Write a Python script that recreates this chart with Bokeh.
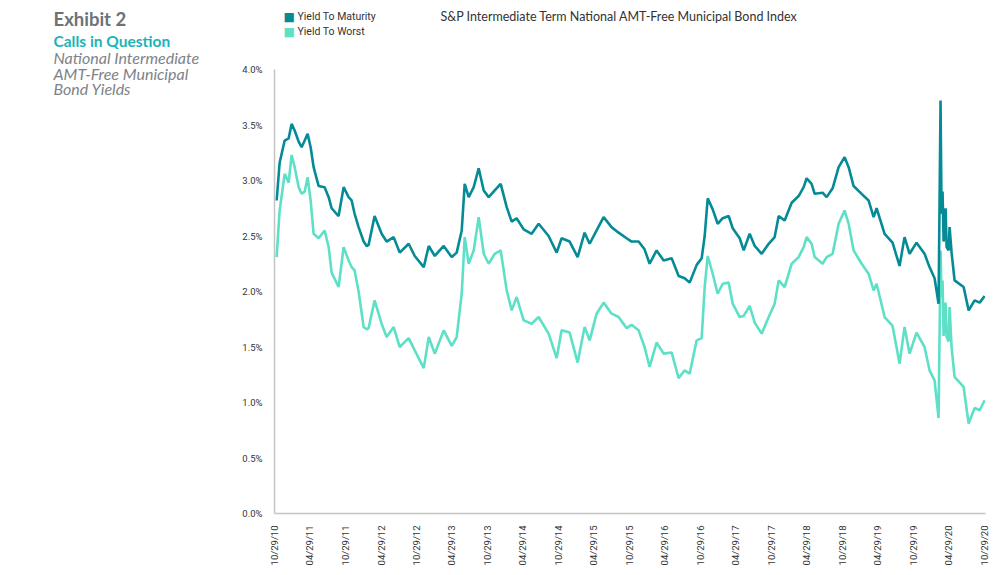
import math
import pandas as pd
from bokeh.plotting import figure
from bokeh.layouts import row, column
from bokeh.models import (Label, FixedTicker, DatetimeTickFormatter, PrintfTickFormatter,
                          Range1d, ColumnDataSource)
from bokeh.embed import file_html
from bokeh.resources import INLINE

# time in decimal years
t = [2010.855, 2010.897, 2010.968, 2011.024, 2011.066, 2011.109, 2011.165, 2011.207, 2011.250, 2011.292,
     2011.334, 2011.376, 2011.447, 2011.531, 2011.588, 2011.630, 2011.728, 2011.799, 2011.869, 2011.912,
     2011.954, 2012.010, 2012.081, 2012.123, 2012.151, 2012.235, 2012.334, 2012.404, 2012.503, 2012.588,
     2012.714, 2012.799, 2012.926, 2012.996, 2013.081, 2013.207, 2013.320, 2013.390, 2013.461, 2013.503,
     2013.559, 2013.630, 2013.700, 2013.771, 2013.841, 2013.926, 2014.010, 2014.095, 2014.165, 2014.235,
     2014.334, 2014.447, 2014.545, 2014.686, 2014.799, 2014.869, 2014.982, 2015.095, 2015.193, 2015.264,
     2015.362, 2015.461, 2015.573, 2015.672, 2015.785, 2015.855, 2015.954, 2016.038, 2016.109, 2016.207,
     2016.306, 2016.419, 2016.517, 2016.602, 2016.672, 2016.771, 2016.841, 2016.883, 2016.926, 2016.996,
     2017.066, 2017.137, 2017.221, 2017.278, 2017.376, 2017.433, 2017.517, 2017.588, 2017.686, 2017.785,
     2017.869, 2017.926, 2018.010, 2018.109, 2018.207, 2018.278, 2018.320, 2018.390, 2018.433, 2018.545,
     2018.602, 2018.686, 2018.771, 2018.855, 2018.912, 2018.982, 2019.095, 2019.193, 2019.264, 2019.306,
     2019.419, 2019.531, 2019.630, 2019.700, 2019.771, 2019.869, 2019.982, 2020.052, 2020.123, 2020.179,
     2020.207, 2020.221, 2020.235, 2020.250, 2020.278, 2020.292, 2020.320, 2020.334, 2020.362, 2020.404,
     2020.531, 2020.602, 2020.686, 2020.757, 2020.827]

ytm = [2.82, 3.16, 3.36, 3.38, 3.51, 3.45, 3.35, 3.30, 3.36, 3.42,
       3.30, 3.12, 2.95, 2.94, 2.85, 2.75, 2.68, 2.94, 2.85, 2.82,
       2.70, 2.58, 2.45, 2.41, 2.42, 2.68, 2.52, 2.45, 2.49, 2.35,
       2.43, 2.32, 2.22, 2.41, 2.32, 2.41, 2.31, 2.35, 2.55, 2.97,
       2.85, 2.94, 3.11, 2.91, 2.85, 2.91, 2.97, 2.76, 2.63, 2.66,
       2.56, 2.52, 2.61, 2.50, 2.35, 2.48, 2.45, 2.31, 2.53, 2.43,
       2.55, 2.67, 2.58, 2.53, 2.48, 2.45, 2.45, 2.38, 2.25, 2.37,
       2.28, 2.30, 2.14, 2.12, 2.08, 2.24, 2.30, 2.50, 2.84, 2.74,
       2.61, 2.66, 2.68, 2.57, 2.48, 2.37, 2.52, 2.41, 2.34, 2.43,
       2.49, 2.68, 2.64, 2.80, 2.86, 2.94, 3.02, 2.97, 2.88, 2.89,
       2.85, 2.93, 3.12, 3.21, 3.12, 2.95, 2.88, 2.82, 2.67, 2.75,
       2.52, 2.44, 2.23, 2.49, 2.34, 2.44, 2.34, 2.22, 2.12, 1.89,
       3.72, 2.70, 2.90, 2.45, 2.75, 2.40, 2.37, 2.58, 2.35, 2.10,
       2.04, 1.83, 1.92, 1.90, 1.96]

ytw = [2.31, 2.73, 3.06, 2.98, 3.23, 3.12, 2.94, 2.88, 2.90, 3.03,
       2.82, 2.52, 2.48, 2.55, 2.40, 2.17, 2.04, 2.40, 2.28, 2.22,
       2.19, 2.00, 1.68, 1.66, 1.67, 1.92, 1.71, 1.59, 1.68, 1.50,
       1.58, 1.47, 1.31, 1.59, 1.44, 1.65, 1.51, 1.59, 1.98, 2.49,
       2.25, 2.37, 2.67, 2.34, 2.25, 2.34, 2.37, 2.01, 1.83, 1.95,
       1.74, 1.71, 1.77, 1.62, 1.40, 1.65, 1.63, 1.36, 1.68, 1.56,
       1.80, 1.90, 1.80, 1.77, 1.67, 1.70, 1.65, 1.50, 1.32, 1.54,
       1.44, 1.45, 1.22, 1.29, 1.26, 1.56, 1.58, 2.04, 2.32, 2.16,
       1.98, 2.07, 2.08, 1.89, 1.77, 1.78, 1.87, 1.72, 1.62, 1.77,
       1.89, 2.10, 2.04, 2.25, 2.31, 2.40, 2.49, 2.43, 2.31, 2.25,
       2.31, 2.34, 2.61, 2.73, 2.61, 2.37, 2.25, 2.16, 2.01, 2.07,
       1.77, 1.69, 1.35, 1.68, 1.44, 1.63, 1.50, 1.29, 1.20, 0.86,
       2.37, 1.95, 2.10, 1.60, 1.90, 1.59, 1.55, 1.86, 1.50, 1.23,
       1.14, 0.81, 0.95, 0.93, 1.02]

tick_dates = ["2010-10-29", "2011-04-29", "2011-10-29", "2012-04-29", "2012-10-29", "2013-04-29",
              "2013-10-29", "2014-04-29", "2014-10-29", "2015-04-29", "2015-10-29", "2016-04-29",
              "2016-10-29", "2017-04-29", "2017-10-29", "2018-04-29", "2018-10-29", "2019-04-29",
              "2019-10-29", "2020-04-29", "2020-10-29"]
y_ticks = [0.0, 0.5, 1.0, 1.5, 2.0, 2.5, 3.0, 3.5, 4.0]

DARK = "#058b95"
LIGHT = "#5ee0c7"
AXFONT = "Roboto"

LEFT_W = 230           # width of the left text column
MAIN_W = 1000 - LEFT_W
TOP_H = 60             # height of the legend / header strip
MAIN_H = 575 - TOP_H
BORDER_L = 274 - LEFT_W
BORDER_R = 15


def to_dt(v):
    year = int(v)
    start = pd.Timestamp(year=year, month=1, day=1)
    end = pd.Timestamp(year=year + 1, month=1, day=1)
    return start + (end - start) * (v - year)


dates = [to_dt(v) for v in t]
src = ColumnDataSource(dict(date=dates, ytm=ytm, ytw=ytw))

# ---------------- main chart ----------------
X0, X1 = pd.Timestamp("2010-10-29"), pd.Timestamp("2020-11-03")
p = figure(width=MAIN_W, height=MAIN_H, x_axis_type="datetime", output_backend="svg",
           toolbar_location=None, min_border_left=BORDER_L, min_border_right=BORDER_R,
           min_border_top=69 - TOP_H, min_border_bottom=62)
p.x_range = Range1d(X0, X1)
p.y_range = Range1d(0, 4.0)
p.outline_line_color = None
p.grid.visible = False

p.line("date", "ytw", source=src, line_color=LIGHT, line_width=2.6)
p.line("date", "ytm", source=src, line_color=DARK, line_width=2.6)

tick_ms = [pd.Timestamp(d).value / 1e6 for d in tick_dates]
p.xaxis.ticker = FixedTicker(ticks=tick_ms)
fmt = "%m/%d/%y"
p.xaxis.formatter = DatetimeTickFormatter(milliseconds=fmt, seconds=fmt, minsec=fmt, minutes=fmt,
                                          hourmin=fmt, hours=fmt, days=fmt, months=fmt, years=fmt)
p.xaxis.major_label_orientation = math.pi / 2
p.xaxis.major_label_standoff = 6

p.yaxis.ticker = FixedTicker(ticks=y_ticks)
p.yaxis.formatter = PrintfTickFormatter(format="%.1f%%")
p.yaxis.major_label_standoff = 6

for ax in (p.xaxis, p.yaxis):
    ax.axis_line_color = "#c4c4c4"
    ax.axis_line_width = 1.5
    ax.major_tick_line_color = None
    ax.minor_tick_line_color = None
    ax.major_label_text_font = AXFONT
    ax.major_label_text_font_size = "9.5px"
    ax.major_label_text_color = "#333333"


# ---------------- text panels (ranges in page pixels) ----------------
def text_panel(w, h, x_start, x_end, bl=0, br=0):
    f = figure(width=w, height=h, output_backend="svg", toolbar_location=None,
               min_border=0, min_border_left=bl, min_border_right=br,
               x_range=Range1d(x_start, x_end), y_range=Range1d(h, 0))
    f.axis.visible = False
    f.grid.visible = False
    f.outline_line_color = None
    return f


left = text_panel(LEFT_W, 575, 0, LEFT_W)
top = text_panel(MAIN_W, TOP_H, 274, 1000 - BORDER_R, bl=BORDER_L, br=BORDER_R)


def add_label(fig, text, cx, cy, size, color, font="Lato", style="normal"):
    fig.add_layout(Label(x=cx, y=cy, text=text, text_font=font,
                         text_font_size=size, text_color=color, text_font_style=style,
                         text_baseline="middle", text_align="left"))


add_label(left, "Exhibit 2", 53, 18, "18.5px", "#6b7378", style="bold")
add_label(left, "Calls in Question", 53, 40, "15.5px", "#19b4b8", style="bold")
add_label(left, "National Intermediate", 53, 57, "16px", "#7d8388", style="italic")
add_label(left, "AMT-Free Municipal", 53, 73, "16px", "#7d8388", style="italic")
add_label(left, "Bond Yields", 53, 88, "16px", "#7d8388", style="italic")

add_label(top, "\u25A0", 283, 16, "12px", DARK, font="DejaVu Sans")
add_label(top, "\u25A0", 283, 31, "12px", LIGHT, font="DejaVu Sans")
add_label(top, "Yield To Maturity", 297, 16, "10.5px", "#333333", font=AXFONT)
add_label(top, "Yield To Worst", 297, 31, "10.5px", "#333333", font=AXFONT)
add_label(top, "S&P Intermediate Term National AMT-Free Municipal Bond Index", 440, 16,
          "12.5px", "#333333", font="Lato")

layout = row(left, column(top, p, spacing=0), spacing=0)
open("out.html", "w").write(file_html(layout, INLINE))
